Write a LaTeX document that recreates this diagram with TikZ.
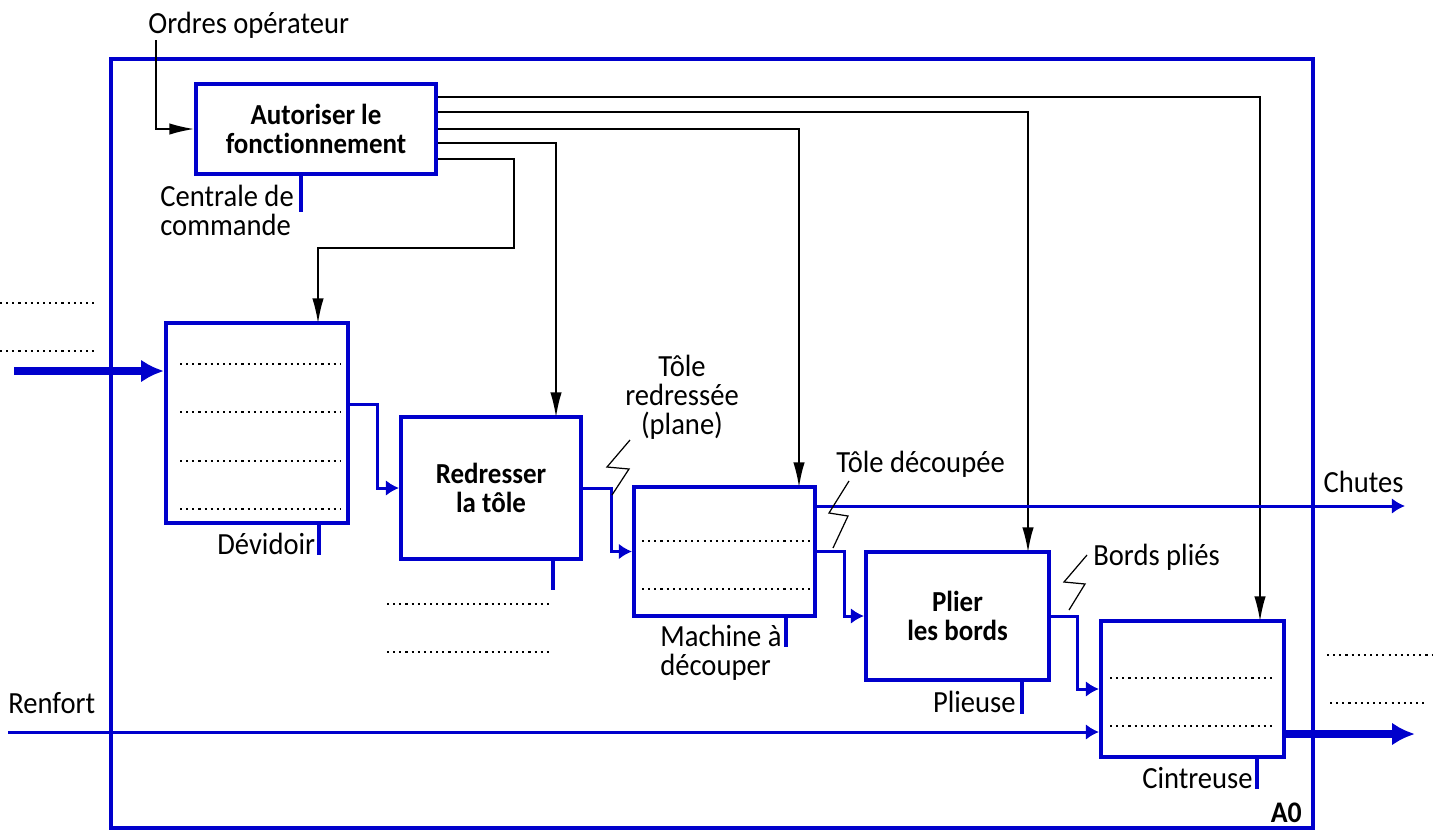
\documentclass[tikz,border=0pt]{standalone}
\usepackage{fontspec}
\setmainfont{Carlito}[FakeStretch=0.93, Ligatures=NoCommon]
\usepackage{tikz}
\usetikzlibrary{arrows.meta,positioning}

\definecolor{idefblue}{RGB}{0,0,204}

\begin{document}
\begin{tikzpicture}[x=0.02cm, y=-0.02cm]
		\tikzstyle{Activity}	= [draw=idefblue, line width=2.3pt, fill=white, inner sep=0pt, align=center, font=\bfseries\fontsize{16.5}{16.4}\selectfont]
		\tikzstyle{Label}	= [inner sep=0pt, align=left, font=\fontsize{17.5}{16.4}\selectfont]
		\tikzstyle{Frame}	= [draw=idefblue, line width=2.3pt]
		\tikzstyle{Flow}	= [draw=idefblue, line width=1.7pt, -{Latex[length=7.5pt,width=9pt]}]
		\tikzstyle{Thick}	= [draw=idefblue, line width=4.5pt, -{Latex[length=13pt,width=13pt]}]
		\tikzstyle{Control}	= [draw=black, line width=0.85pt, -{Latex[length=14pt,width=6.5pt]}]
		\tikzstyle{Mech}	= [draw=idefblue, line width=2.3pt]
		\tikzstyle{Bolt}	= [draw=black, line width=0.7pt]
		\tikzstyle{Blank}	= [draw=black, line width=1.2pt, dash pattern=on 1.2pt off 2.3pt]

		\useasboundingbox (0,0) rectangle (1440,829);

		% context frame A0
		\draw[Frame] (111,59) rectangle (1313,828);
		\node (a0) at (1302,822) [Label][anchor=base east, font=\bfseries\fontsize{17}{16.4}\selectfont] {A0};

		% activities
		\node (auto) at (316, 129) [Activity][minimum width=4.8cm, minimum height=1.8cm] {Autoriser le\\fonctionnement};
		\node (dev) at (257, 423) [Activity][minimum width=3.64cm, minimum height=4.0cm] {};
		\node (red) at (491, 488) [Activity][minimum width=3.6cm, minimum height=2.84cm] {Redresser\\la tôle};
		\node (mac) at (724.5, 551.5) [Activity][minimum width=3.62cm, minimum height=2.58cm] {};
		\node (pli) at (957.5, 616) [Activity][minimum width=3.66cm, minimum height=2.56cm] {Plier\\les bords};
		\node (cin) at (1192.5, 689) [Activity][minimum width=3.66cm, minimum height=2.72cm] {};

		% blanks to fill in
		\foreach \y in {364,412,461,509} \draw[Blank] (180,\y) -- (341,\y);
		\foreach \y in {541,589} \draw[Blank] (642,\y) -- (810,\y);
		\foreach \y in {678,726} \draw[Blank] (1110,\y) -- (1276,\y);
		\foreach \y in {303,351} \draw[Blank] (0,\y) -- (97,\y);
		\foreach \y in {604,652} \draw[Blank] (387,\y) -- (553,\y);
		\draw[Blank] (1327,655) -- (1432,655);
		\draw[Blank] (1330,703) -- (1428,703);

		% texts
		\node (ordres) at (148,33) [Label][anchor=base west] {Ordres opérateur};
		\node (centrale) at (160,185) [Label][anchor=north west] {Centrale de\\commande};
		\node (devidoir) at (217,554) [Label][anchor=base west] {Dévidoir};
		\node (redressee) at (682,355) [Label][anchor=north, align=center] {Tôle\\redressée\\(plane)};
		\node (decoupee) at (836,472) [Label][anchor=base west] {Tôle découpée};
		\node (chutes) at (1404,492) [Label][anchor=base east] {Chutes};
		\node (plies) at (1093,565) [Label][anchor=base west] {Bords pliés};
		\node (machine) at (660,625) [Label][anchor=north west] {Machine à\\découper};
		\node (plieuse) at (1016,712) [Label][anchor=base east] {Plieuse};
		\node (cintreuse) at (1253,788) [Label][anchor=base east] {Cintreuse};
		\node (renfort) at (8,713) [Label][anchor=base west] {Renfort};

		% arrow ends
		\coordinate (cOrd) at (156,40);
		\coordinate (cDev) at (318,323);
		\coordinate (cRed) at (556,417);
		\coordinate (cMac) at (799,487);
		\coordinate (cPli) at (1028,552);
		\coordinate (cCin) at (1260,621);
		\coordinate (cIn) at (14,371);
		\coordinate (cRen) at (8,732);
		\coordinate (cChu) at (1405,506);
		\coordinate (cOut) at (1415,734);

		% controls
		\draw[Control] (cOrd) |- (auto.west);
		\draw[Control] (auto.north east) ++(0,15) -| (cCin);
		\draw[Control] (auto.north east) ++(0,30) -| (cPli);
		\draw[Control] (auto.north east) ++(0,47) -| (cMac);
		\draw[Control] (auto.north east) ++(0,61) -| (cRed);
		\draw[Control] (auto.north east) ++(0,77) -- ++(76,0) -- ++(0,89) -| (cDev);

		% mechanisms
		\draw[Mech] (auto.south west) ++(107,0) -- ++(0,36);
		\draw[Mech] (dev.south west) ++(155,0) -- ++(0,30);
		\draw[Mech] (red.south west) ++(154,0) -- ++(0,29);
		\draw[Mech] (mac.south west) ++(154,0) -- ++(0,29);
		\draw[Mech] (pli.south west) ++(158,0) -- ++(0,32);
		\draw[Mech] (cin.south west) ++(158,0) -- ++(0,30);

		% flows
		\draw[Thick] (cIn) -- (cIn -| dev.west);
		\draw[Flow] (dev.north east) ++(0,83) -- ++(27,0) |- (red.west);
		\draw[Flow] (red.east) -- ++(28,0) |- (mac.west);
		\draw[Flow] (cChu -| mac.east) -- (cChu);
		\draw[Flow] (mac.east) -- ++(27,0) |- (pli.west);
		\draw[Flow] (pli.east) -- ++(26,0) |- (cin.west);
		\draw[Flow] (cRen) -- (cRen -| cin.west);
		\draw[Thick] (cOut -| cin.east) -- (cOut);

		% labels of flows
		\draw[Bolt] (630,440) -- (607,467) -- (629,469) -- (612,495);
		\draw[Bolt] (849,481) -- (829,513) -- (848,516) -- (833,548);
		\draw[Bolt] (1087,555) -- (1064,582) -- (1085,584) -- (1069,610);
	\end{tikzpicture}
\end{document}
